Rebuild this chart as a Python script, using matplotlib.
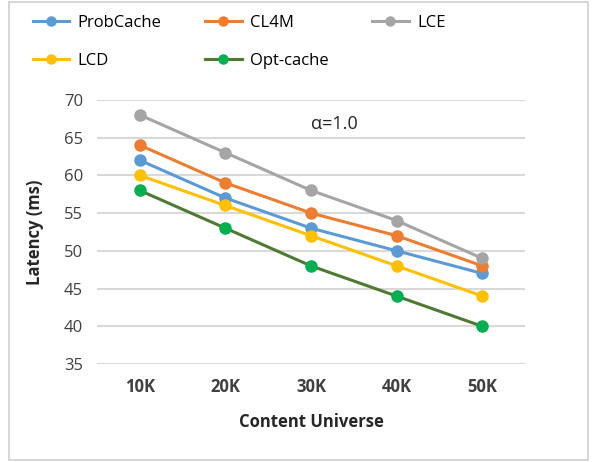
import matplotlib.pyplot as plt
from matplotlib.patches import Rectangle

plt.rcParams['font.family'] = ['Open Sans', 'DejaVu Sans']

categories = ['10K', '20K', '30K', '40K', '50K']
probcache = [62, 57, 53, 50, 47]
cl4m = [64, 59, 55, 52, 48]
lce = [68, 63, 58, 54, 49]
lcd = [60, 56, 52, 48, 44]
optcache = [58, 53, 48, 44, 40]
yticks = [35, 40, 45, 50, 55, 60, 65, 70]

series = [
    ('ProbCache', probcache, '#5B9BD5', '#5B9BD5'),
    ('CL4M', cl4m, '#ED7D31', '#ED7D31'),
    ('LCE', lce, '#A5A5A5', '#A5A5A5'),
    ('LCD', lcd, '#FFC000', '#FFC000'),
    ('Opt-cache', optcache, '#4E7A34', '#00B050'),
]

fig = plt.figure(figsize=(5.94, 4.62), dpi=100)
ax = fig.add_axes([0.163, 0.212, 0.721, 0.572])

x = range(len(categories))
handles = {}
for name, vals, lc, mc in series:
    h, = ax.plot(x, vals, color=lc, linewidth=2.2, marker='o', markersize=8,
                 markerfacecolor=mc, markeredgecolor=mc, label=name)
    handles[name] = h

ax.set_xlim(-0.5, len(categories) - 0.5)
ax.set_ylim(35, 70)
ax.set_yticks(yticks)
ax.set_xticks(list(x))
ax.set_xticklabels(categories, fontweight='bold')
ax.tick_params(length=0, labelsize=12, colors='#404040')
ax.tick_params(axis='x', pad=10)
ax.tick_params(axis='y', pad=10)
ax.grid(axis='y', color='#D9D9D9', linewidth=1.5)
ax.set_axisbelow(True)
for s in ax.spines.values():
    s.set_visible(False)

ax.set_ylabel('Latency (ms)', fontsize=12, fontweight='bold', color='#262626',
              labelpad=14)
ax.set_xlabel('Content Universe', fontsize=12, fontweight='bold', color='#262626',
              labelpad=12)
ax.text(0.5, 0.91, 'α=1.0', transform=ax.transAxes, fontsize=13, color='#262626',
        ha='left', va='center')

# column-wise fill order so rows read ProbCache, CL4M, LCE / LCD, Opt-cache
order = ['ProbCache', 'LCD', 'CL4M', 'Opt-cache', 'LCE']
leg = fig.legend(handles=[handles[n] for n in order], loc='upper left',
                 bbox_to_anchor=(0.03, 1.0), ncol=3, frameon=False, fontsize=12,
                 handlelength=2.2, columnspacing=2.6, labelspacing=1.3,
                 handletextpad=0.5)
for lh in leg.legend_handles:
    lh.set_markersize(6.5)

fig.patches.append(Rectangle((0.015, 0.005), 0.975, 0.99, transform=fig.transFigure,
                             fill=False, edgecolor='#D0D0D0', linewidth=1.2))

fig.savefig('out.png', dpi=100)
